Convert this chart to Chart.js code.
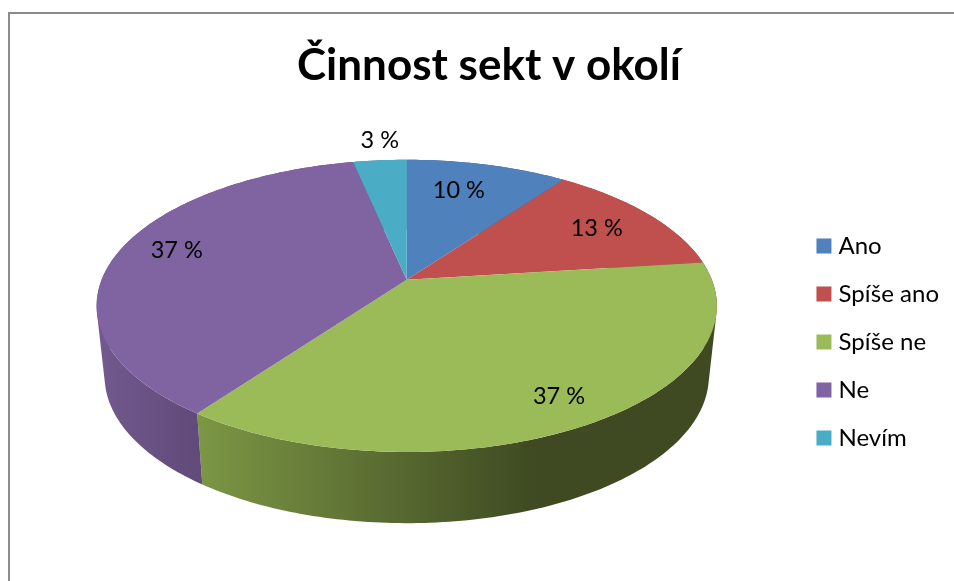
<!DOCTYPE html>
<html lang="cs">
<head>
<meta charset="utf-8">
<title>Činnost sekt v okolí</title>
<script src="https://cdn.jsdelivr.net/npm/chart.js@4/dist/chart.umd.min.js"></script>
<style>
html,body{margin:0;padding:0;background:#fff;overflow:hidden}
canvas{display:block}
</style>
</head>
<body>
<canvas id="c" width="954" height="581"></canvas>
<script>
const chartTitle = "Činnost sekt v okolí";
const categories = ["Ano", "Spíše ano", "Spíše ne", "Ne", "Nevím"];
const values = [10, 13, 37, 36.7, 3.3];
const colors = ["#4f81bd", "#c0504d", "#9bbb59", "#8064a2", "#4bacc6"];
const sideLight = ["#3f6188", "#8e3b39", "#7c9745", "#72598f", "#37808f"];
const sideDark = ["#3f6188", "#8e3b39", "#3f4a22", "#614b7a", "#37808f"];
const labelFrac = [0.734, 0.769, 0.842, 0.811, 1.197];
const labelTurn = [-2.8, 0.5, -0.5, 3.2, 0.8];

// Tilted-disc projection, in units of the pie radius the library computes.
const persp = [
  {a: 305 / 182, b: 141.4 / 182, k: 0.178, dy: -62 / 182},
  {a: 297 / 182, b: 142 / 182, k: 0.18, dy: 8 / 182}
];
function project(arc, theta, f, plane) {
  const p = persp[plane], r = arc.outerRadius;
  const u = f * Math.sin(theta), v = -f * Math.cos(theta), d = 1 - p.k * v;
  return [arc.x + r * p.a * u / d, arc.y + r * p.dy + r * p.b * v / d];
}

const tiltedPie = {
  id: "tiltedPie",
  afterLayout(chart) {
    chart.titleBlock.left += 6.5;
    chart.titleBlock.right += 6.5;
  },
  beforeDraw(chart) {
    const c = chart.ctx;
    c.save();
    c.fillStyle = "#fff";
    c.fillRect(0, 0, chart.width, chart.height);
    c.strokeStyle = "#8c8c8c";
    c.lineWidth = 2;
    c.beginPath();
    c.moveTo(9, chart.height + 2);
    c.lineTo(9, 13);
    c.lineTo(chart.width + 2, 13);
    c.stroke();
    c.restore();
  },
  beforeDatasetDraw(chart) {
    const c = chart.ctx, arcs = chart.getDatasetMeta(0).data;
    const step = Math.PI / 180;
    c.save();
    arcs.forEach((arc, i) => {
      const s = arc.startAngle + Math.PI / 2, e = arc.endAngle + Math.PI / 2;
      const n = Math.max(2, Math.ceil((e - s) / step));
      const g = c.createLinearGradient(arc.x + (i === 2 ? -210 : -310), 0, arc.x + (i === 2 ? 125 : -210), 0);
      g.addColorStop(0, sideLight[i]);
      g.addColorStop(1, sideDark[i]);
      c.fillStyle = g;
      c.beginPath();
      for (let j = 0; j < n; j++) {
        const t0 = s + (e - s) * j / n, t1 = s + (e - s) * (j + 1) / n;
        let q = [project(arc, t0, 1, 0), project(arc, t1, 1, 0), project(arc, t1, 1, 1), project(arc, t0, 1, 1)];
        let area = 0;
        q.forEach((p, m) => { const w = q[(m + 1) % 4]; area += p[0] * w[1] - w[0] * p[1]; });
        if (area < 0) q = q.reverse();
        c.moveTo(q[0][0], q[0][1]);
        for (let m = 1; m < 4; m++) c.lineTo(q[m][0], q[m][1]);
        c.closePath();
      }
      c.fill("nonzero");
    });
    arcs.forEach((arc, i) => {
      const s = arc.startAngle + Math.PI / 2, e = arc.endAngle + Math.PI / 2;
      const n = Math.max(2, Math.ceil((e - s) / step));
      c.fillStyle = colors[i];
      c.beginPath();
      const o = project(arc, 0, 0, 0);
      c.moveTo(o[0], o[1]);
      for (let j = 0; j <= n; j++) {
        const p = project(arc, s + (e - s) * j / n, 1, 0);
        c.lineTo(p[0], p[1]);
      }
      c.closePath();
      c.fill();
    });
    c.restore();
    return false;
  },
  afterDatasetsDraw(chart) {
    const c = chart.ctx, arcs = chart.getDatasetMeta(0).data;
    c.save();
    c.fillStyle = "#000";
    c.font = "23.5px Lato";
    c.textAlign = "center";
    c.textBaseline = "middle";
    arcs.forEach((arc, i) => {
      const mid = (arc.startAngle + arc.endAngle) / 2 + Math.PI / 2 + labelTurn[i] * Math.PI / 180;
      const p = project(arc, mid, labelFrac[i], 0);
      c.fillText(Math.round(values[i]) + " %", p[0], p[1]);
    });
    c.restore();
  }
};

new Chart(document.getElementById("c"), {
  type: "pie",
  plugins: [tiltedPie],
  data: {
    labels: categories,
    datasets: [{data: values, backgroundColor: colors, borderWidth: 0}]
  },
  options: {
    responsive: false,
    animation: false,
    layout: {padding: {left: 16, right: 5, top: 0, bottom: 57}},
    plugins: {
      tooltip: {enabled: false},
      title: {
        display: true,
        text: chartTitle,
        color: "#000",
        font: {family: "Lato", size: 44, weight: "bold", lineHeight: 1.2},
        padding: {top: 39, bottom: 68}
      },
      legend: {
        position: "right",
        fullSize: false,
        labels: {
          boxWidth: 5,
          boxHeight: 5,
          padding: 24,
          color: "#000",
          font: {family: "Lato", size: 24, lineHeight: 1},
          generateLabels(chart) {
            return Chart.overrides.pie.plugins.legend.labels.generateLabels(chart).map((item, i) => {
              item.strokeStyle = colors[i];
              item.lineWidth = 10;
              return item;
            });
          }
        }
      }
    }
  }
});
</script>
</body>
</html>
